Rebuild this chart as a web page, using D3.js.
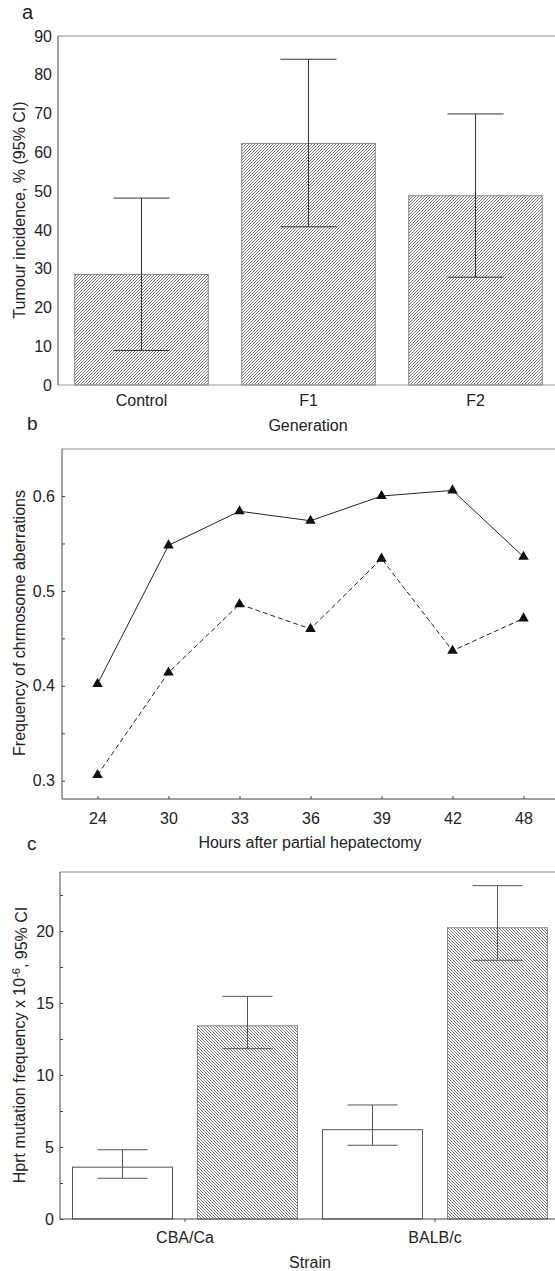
<!DOCTYPE html>
<html>
<head>
<meta charset="utf-8">
<script src="https://cdn.jsdelivr.net/npm/d3@7"></script>
<style>
  body { margin: 0; background: #fff; }
  text { font-family: "Liberation Sans", Arial, sans-serif; fill: #222; }
</style>
</head>
<body>
<div id="main"></div>
<script>
// Panel a data
const genCats = ['Control', 'F1', 'F2'];
const genVals = [28.5, 62.3, 48.8];
const genLo = [8.9, 40.8, 27.8];
const genHi = [48.2, 84.0, 69.9];
const aTicks = [0, 10, 20, 30, 40, 50, 60, 70, 80, 90];

// Panel b data
const hours = ['24', '30', '33', '36', '39', '42', '48'];
const freqSolid = [0.402, 0.548, 0.584, 0.574, 0.600, 0.606, 0.536];
const freqDashed = [0.306, 0.414, 0.486, 0.460, 0.534, 0.437, 0.471];
const bTicks = [0.3, 0.35, 0.4, 0.45, 0.5, 0.55, 0.6];
const bLabelled = [0.3, 0.4, 0.5, 0.6];

// Panel c data
const strains = ['CBA/Ca', 'BALB/c'];
const hprtOpen = [3.6, 6.2];
const hprtOpenLo = [2.83, 5.12];
const hprtOpenHi = [4.81, 7.92];
const hprtHatch = [13.42, 20.23];
const hprtHatchLo = [11.83, 17.97];
const hprtHatchHi = [15.46, 23.15];
const cTicks = [0, 2.5, 5, 7.5, 10, 12.5, 15, 17.5, 20, 22.5];
const cLabelled = [0, 5, 10, 15, 20];

const W = 555, H = 1271;
const fs = '16px';

const svg = d3.select('#main').append('svg')
    .attr('width', W)
    .attr('height', H);

// hatch patterns
const defs = svg.append('defs');
defs.append('pattern').attr('id', 'hatchA')
    .attr('patternUnits', 'userSpaceOnUse').attr('width', 3).attr('height', 3)
    .append('path').attr('d', 'M-1,1 l2,-2 M0,3 l3,-3 M2,4 l2,-2')
    .attr('stroke', '#666').attr('stroke-width', 0.9);
defs.append('pattern').attr('id', 'hatchC')
    .attr('patternUnits', 'userSpaceOnUse').attr('width', 3).attr('height', 3)
    .append('path').attr('d', 'M-1,2 l2,2 M0,0 l3,3 M2,-1 l2,2')
    .attr('stroke', '#666').attr('stroke-width', 0.9);

function frame(g, x0, x1, y0, y1, bottomColor) {
    g.append('line').attr('x1', x0).attr('x2', x1).attr('y1', y0).attr('y2', y0).attr('stroke', '#888');
    g.append('line').attr('x1', x0).attr('x2', x0).attr('y1', y0).attr('y2', y1).attr('stroke', '#444');
    g.append('line').attr('x1', x0).attr('x2', x1).attr('y1', y1).attr('y2', y1).attr('stroke', bottomColor);
}

function errBars(g, cx, lo, hi, y, half, color) {
    g.append('line').attr('x1', cx).attr('x2', cx).attr('y1', y(lo)).attr('y2', y(hi)).attr('stroke', color);
    g.append('line').attr('x1', cx - half).attr('x2', cx + half).attr('y1', y(lo)).attr('y2', y(lo)).attr('stroke', color);
    g.append('line').attr('x1', cx - half).attr('x2', cx + half).attr('y1', y(hi)).attr('y2', y(hi)).attr('stroke', color);
}

function styleAxis(g) {
    g.select('.domain').remove();
    g.selectAll('text').style('font-size', fs).attr('fill', '#222');
    g.selectAll('line').attr('stroke', '#444');
}

// ---------------- Panel a ----------------
const aL = 58, aT = 36, aB = 385;
const xA = d3.scaleBand().domain(genCats).range([aL, aL + 501]).paddingInner(0.2).paddingOuter(0.1);
const yA = d3.scaleLinear().domain([0, 90]).range([aB, aT]);
const gA = svg.append('g');

gA.selectAll('rect.bar').data(genCats).enter().append('rect')
    .attr('class', 'bar')
    .attr('x', d => xA(d))
    .attr('width', xA.bandwidth())
    .attr('y', (d, i) => yA(genVals[i]))
    .attr('height', (d, i) => aB - yA(genVals[i]))
    .attr('fill', 'url(#hatchA)')
    .attr('stroke', '#888');

frame(gA, aL, W, aT, aB, '#999');

genCats.forEach((d, i) => errBars(gA, xA(d) + xA.bandwidth() / 2, genLo[i], genHi[i], yA, 28, '#333'));

gA.append('g').attr('transform', `translate(${aL},0)`)
    .call(d3.axisLeft(yA).tickValues(aTicks).tickSize(0).tickPadding(6))
    .call(styleAxis);
gA.append('g').attr('transform', `translate(0,${aB})`)
    .call(d3.axisBottom(xA).tickSize(0).tickPadding(10))
    .call(styleAxis);

gA.append('text').attr('x', 22).attr('y', 19).style('font-size', '20px').text('a');
gA.append('text').attr('transform', 'translate(19,210) rotate(-90)')
    .attr('text-anchor', 'middle').attr('dy', '0.35em').style('font-size', fs)
    .text('Tumour incidence, % (95% CI)');
gA.append('text').attr('x', 308).attr('y', 431).attr('text-anchor', 'middle').style('font-size', fs)
    .text('Generation');

// ---------------- Panel b ----------------
const bL = 62, bT = 449, bB = 799;
const xB = d3.scalePoint().domain(hours).range([bL, bL + 497]).padding(0.5);
const yB = d3.scaleLinear().domain([0.2807, 0.6496]).range([bB, bT]);
const gB = svg.append('g');

frame(gB, bL, W, bT, bB, '#444');

gB.append('g').attr('transform', `translate(${bL},0)`)
    .call(d3.axisLeft(yB).tickValues(bTicks).tickSize(-3).tickPadding(7)
        .tickFormat(d => bLabelled.some(v => Math.abs(v - d) < 1e-9) ? d3.format('.1f')(d) : ''))
    .call(styleAxis);
gB.append('g').attr('transform', `translate(0,${bB})`)
    .call(d3.axisBottom(xB).tickSize(-3).tickPadding(14))
    .call(styleAxis);

const lineB = d3.line().x((d, i) => xB(hours[i])).y(d => yB(d));
gB.append('path').datum(freqSolid).attr('d', lineB)
    .attr('fill', 'none').attr('stroke', '#222').attr('stroke-width', 1);
gB.append('path').datum(freqDashed).attr('d', lineB)
    .attr('fill', 'none').attr('stroke', '#222').attr('stroke-width', 1).attr('stroke-dasharray', '5,3');

const tri = d3.symbol().type(d3.symbolTriangle).size(48);
[freqSolid, freqDashed].forEach(series => {
    gB.selectAll(null).data(series).enter().append('path')
        .attr('d', tri)
        .attr('transform', (d, i) => `translate(${xB(hours[i])},${yB(d)})`)
        .attr('fill', '#111');
});

gB.append('text').attr('x', 27).attr('y', 430).style('font-size', '19px').text('b');
gB.append('text').attr('transform', 'translate(19,623) rotate(-90)')
    .attr('text-anchor', 'middle').attr('dy', '0.35em').style('font-size', fs)
    .text('Frequency of chrmosome aberrations');
gB.append('text').attr('x', 310).attr('y', 848).attr('text-anchor', 'middle').style('font-size', fs)
    .text('Hours after partial hepatectomy');

// ---------------- Panel c ----------------
const cL = 60, cT = 872, cB = 1219;
const x0C = d3.scaleBand().domain(strains).range([cL, cL + 500]);
const x1C = d3.scaleBand().domain(['open', 'hatch']).range([0, x0C.bandwidth()]).paddingInner(0.2).paddingOuter(0.1);
const yC = d3.scaleLinear().domain([0, 24.1]).range([cB, cT]);
const gC = svg.append('g');

strains.forEach((s, i) => {
    const gx = x0C(s);
    gC.append('rect')
        .attr('x', gx + x1C('open')).attr('width', x1C.bandwidth())
        .attr('y', yC(hprtOpen[i])).attr('height', cB - yC(hprtOpen[i]))
        .attr('fill', '#fff').attr('stroke', '#555');
    gC.append('rect')
        .attr('x', gx + x1C('hatch')).attr('width', x1C.bandwidth())
        .attr('y', yC(hprtHatch[i])).attr('height', cB - yC(hprtHatch[i]))
        .attr('fill', 'url(#hatchC)').attr('stroke', '#888');
});

frame(gC, cL, W, cT, cB, '#444');

strains.forEach((s, i) => {
    const gx = x0C(s);
    errBars(gC, gx + x1C('open') + x1C.bandwidth() / 2, hprtOpenLo[i], hprtOpenHi[i], yC, 25, '#555');
    errBars(gC, gx + x1C('hatch') + x1C.bandwidth() / 2, hprtHatchLo[i], hprtHatchHi[i], yC, 25, '#555');
});

gC.append('g').attr('transform', `translate(${cL},0)`)
    .call(d3.axisLeft(yC).tickValues(cTicks).tickSize(-3).tickPadding(6)
        .tickFormat(d => cLabelled.includes(d) ? d : ''))
    .call(styleAxis);
gC.append('g').attr('transform', `translate(0,${cB})`)
    .call(d3.axisBottom(x0C).tickSize(3).tickPadding(10))
    .call(styleAxis);

gC.append('text').attr('x', 27).attr('y', 850).style('font-size', '19px').text('c');
const tC = gC.append('text').attr('transform', 'translate(19,1045) rotate(-90)')
    .attr('text-anchor', 'middle').attr('dy', '0.35em').style('font-size', fs);
tC.append('tspan').text('Hprt mutation frequency x 10');
tC.append('tspan').attr('dy', '-0.45em').style('font-size', '11px').text('-6');
tC.append('tspan').attr('dy', '0.45em').text(', 95% CI');
gC.append('text').attr('x', 310).attr('y', 1268).attr('text-anchor', 'middle').style('font-size', fs)
    .text('Strain');
</script>
</body>
</html>
